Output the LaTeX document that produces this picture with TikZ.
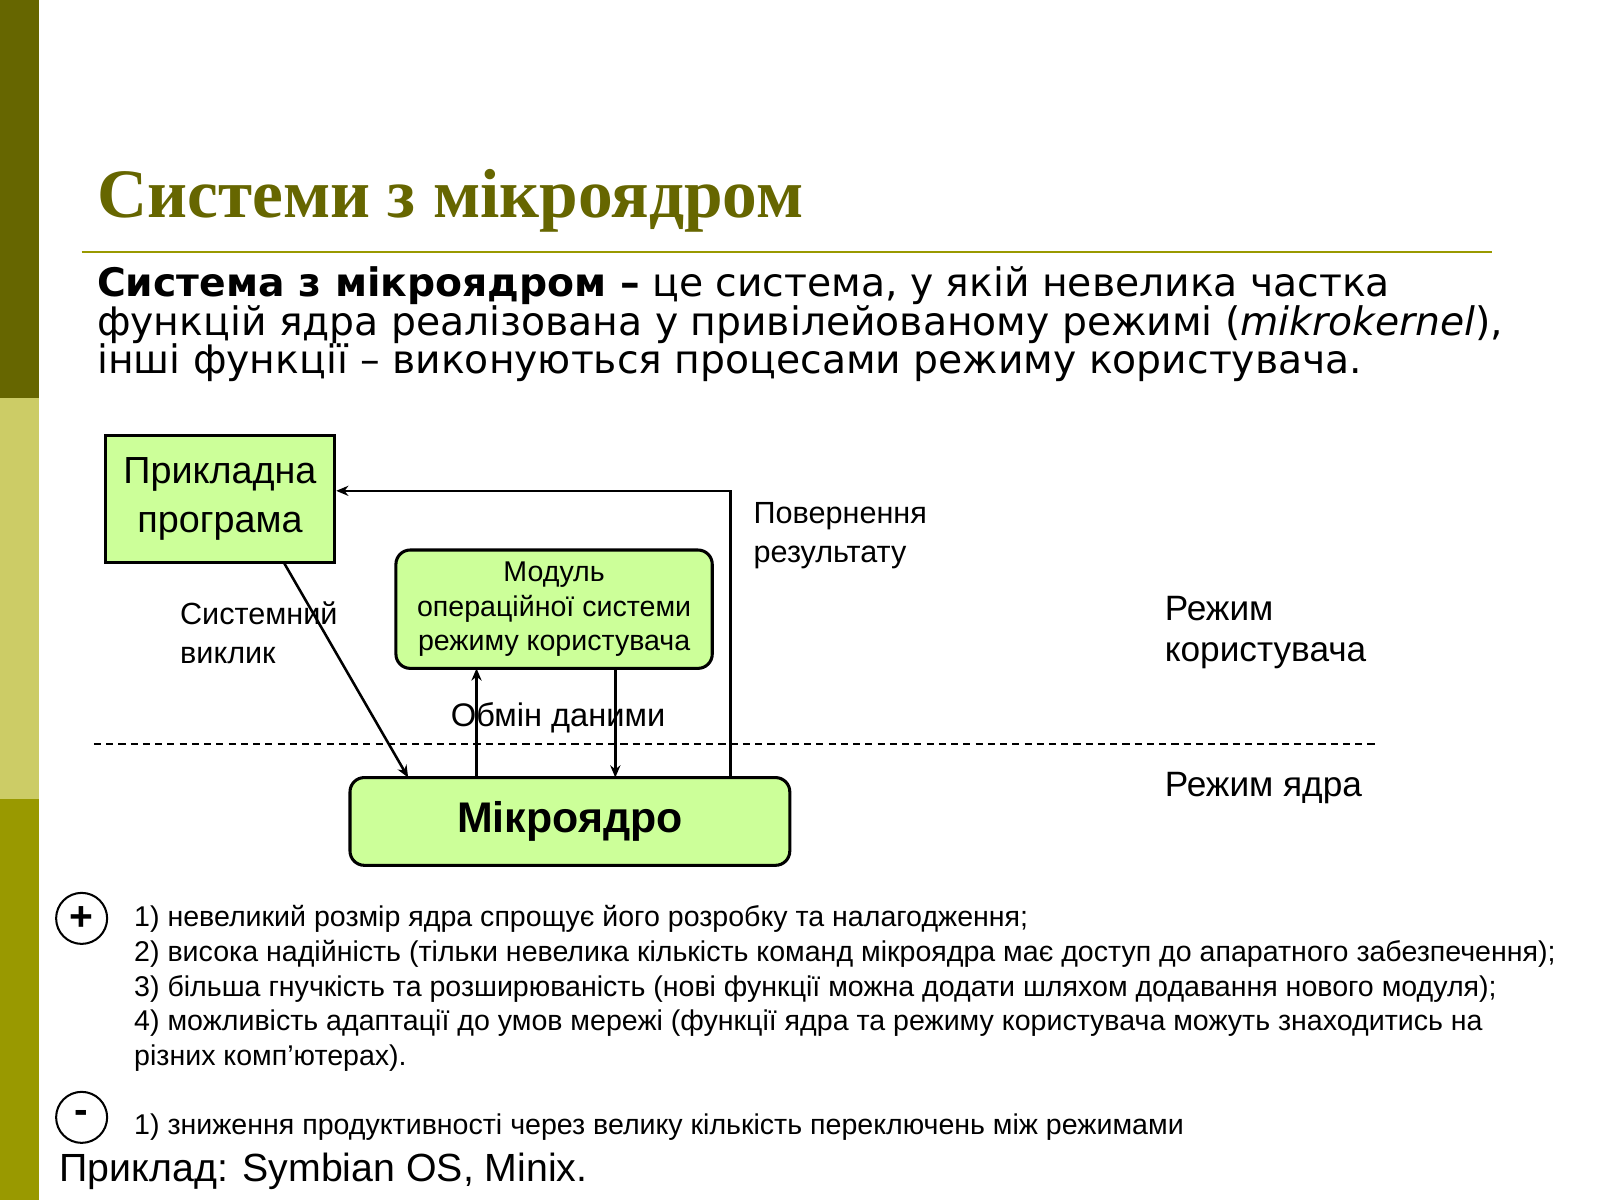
\documentclass[tikz,border=0pt]{standalone}
\usepackage{fontspec}
\setmainfont{Liberation Sans}
\newfontfamily\titlefont{Liberation Serif}
\newfontfamily\verd{DejaVu Sans}
\usetikzlibrary{arrows.meta}
\definecolor{olivea}{HTML}{666600}
\definecolor{oliveb}{HTML}{CCCC66}
\definecolor{olivec}{HTML}{999900}
\definecolor{boxg}{HTML}{CCFF99}
\tikzset{
 box/.style={draw=black,line width=3pt,fill=boxg,align=center},
 arr/.style={line width=2.5pt,-{Stealth[length=12pt,width=10pt]}},
 lbl/.style={font=\fontsize{30}{38}\selectfont,align=left,anchor=west},
 lst/.style={font=\fontsize{28}{34}\selectfont,align=left,anchor=north west},
}
\begin{document}
\begin{tikzpicture}[x=1pt,y=-1pt]
\useasboundingbox (0,0) rectangle (1568,1176);
\fill[white] (0,0) rectangle (1568,1176);
\fill[olivea] (0,0) rectangle (38,390);
\fill[oliveb] (0,390) rectangle (38,783);
\fill[olivec] (0,783) rectangle (38,1176);
\node[anchor=west,text=olivea,font=\titlefont\bfseries\fontsize{68}{74}\selectfont] (title) at (92,197) {Системи з мікроядром};
\draw[olivec,line width=2.5pt] (80,247) -- (1462,247);
\node[anchor=north west,align=left,inner sep=0,font=\verd\fontsize{38.5}{38}\selectfont] (para) at (95,261)
{\textbf{Система з мікроядром –} це система, у якій невелика частка\\
функцій ядра реалізована у привілейованому режимі (\textit{mikrokernel}),\\
інші функції – виконуються процесами режиму користувача.};
\node[box,minimum width=225pt,minimum height=124pt,font=\fontsize{37}{48}\selectfont] (app) at (215.5,489) {Прикладна\\ програма};
\node[box,rounded corners=14pt,minimum width=310pt,minimum height=116pt,font=\fontsize{28}{34}\selectfont] (mod) at (543,597) {Модуль\\операційної системи\\режиму користувача};
\node[box,rounded corners=14pt,minimum width=431pt,minimum height=86pt,font=\bfseries\fontsize{42}{44}\selectfont] (mk) at (558.5,805) {Мікроядро};
\draw[dashed,line width=1.5pt,dash pattern=on 7pt off 5pt] (92,729) -- (1350,729);
\coordinate (s1) at (278,551); \coordinate (s2) at (400,762);
\draw[arr] (s1) -- (s2);
\coordinate (r1) at (716,762);
\draw[arr] (r1) -- (716,481) -- (app.east |- 0,481);
\draw[arr] (467,762) -- (467,655);
\draw[arr] (603,655) -- (603,762);
\node[lbl] (l1) at (173,620) {Системний\\виклик};
\node[lbl] (l2) at (735,525) {Повернення\\результату};
\node[lbl,anchor=center,font=\fontsize{32}{38}\selectfont] (l3) at (547,703) {Обмін даними};
\node[lbl,font=\fontsize{34.5}{40}\selectfont] (l4) at (1138,620) {Режим\\користувача};
\node[lbl,font=\fontsize{34.5}{40}\selectfont] (l5) at (1138,772) {Режим ядра};
\node[draw,circle,line width=2pt,minimum size=50pt,inner sep=0,font=\bfseries\fontsize{40}{40}\selectfont] (plus) at (80,900) {+};
\node[draw,circle,line width=2pt,minimum size=50pt,inner sep=0,font=\bfseries\fontsize{40}{40}\selectfont] (minus) at (80,1095) {-};
\node[lst] (list) at (128,884) {1) невеликий розмір ядра спрощує його розробку та налагодження;\\
2) висока надійність (тільки невелика кількість команд мікроядра має доступ до апаратного забезпечення);\\
3) більша гнучкість та розширюваність (нові функції можна додати шляхом додавання нового модуля);\\
4) можливість адаптації до умов мережі (функції ядра та режиму користувача можуть знаходитись на\\
різних комп’ютерах).};
\node[lst] (list2) at (128,1088) {1) зниження продуктивності через велику кількість переключень між режимами};
\node[anchor=west,font=\fontsize{38.5}{40}\selectfont] (ex) at (55,1148) {Приклад: Symbian OS, Minix.};
\end{tikzpicture}
\end{document}
